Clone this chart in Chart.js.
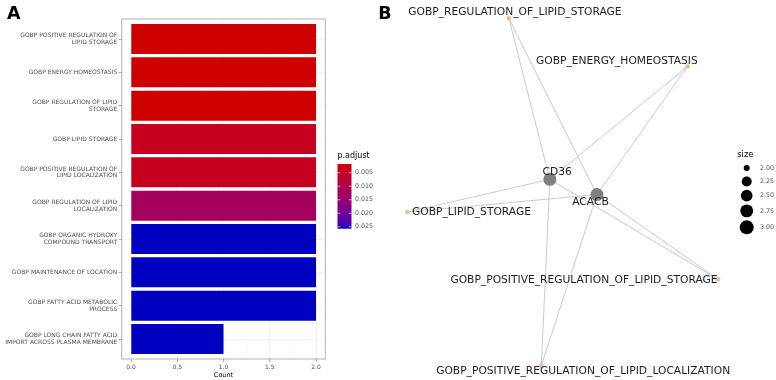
<!DOCTYPE html>
<html><head><meta charset="utf-8">
<script src="https://cdn.jsdelivr.net/npm/chart.js@4.4.1/dist/chart.umd.min.js"></script>
<style>
html,body{margin:0;padding:0;background:#fff;width:776px;height:380px;overflow:hidden}
#a{position:absolute;left:0;top:0;width:380px;height:380px}
#b{position:absolute;left:370px;top:0;width:406px;height:380px}
canvas{display:block}
</style></head><body>
<div id="a"><canvas id="ca" width="380" height="380"></canvas></div>
<div id="b"><canvas id="cb" width="406" height="380"></canvas></div>
<script>
// ---------- Panel A data ----------
const termLabels = [
  ["GOBP POSITIVE REGULATION OF", "LIPID STORAGE"],
  ["GOBP ENERGY HOMEOSTASIS"],
  ["GOBP REGULATION OF LIPID", "STORAGE"],
  ["GOBP LIPID STORAGE"],
  ["GOBP POSITIVE REGULATION OF", "LIPID LOCALIZATION"],
  ["GOBP REGULATION OF LIPID", "LOCALIZATION"],
  ["GOBP ORGANIC HYDROXY", "COMPOUND TRANSPORT"],
  ["GOBP MAINTENANCE OF LOCATION"],
  ["GOBP FATTY ACID METABOLIC", "PROCESS"],
  ["GOBP LONG CHAIN FATTY ACID", "IMPORT ACROSS PLASMA MEMBRANE"]
];
const counts = [2, 2, 2, 2, 2, 2, 2, 2, 2, 1];
const pAdjust = [0.0018, 0.0018, 0.0018, 0.0042, 0.0042, 0.0126, 0.0257, 0.0257, 0.0257, 0.0257];
const countTicks = [0, 0.5, 1, 1.5, 2];
const countMinorTicks = [0.25, 0.75, 1.25, 1.75];
const pAdjustTicks = [0.005, 0.010, 0.015, 0.020, 0.025];

// ---------- Panel B data (network layout coordinates) ----------
const netTerms = ["GOBP_REGULATION_OF_LIPID_STORAGE", "GOBP_ENERGY_HOMEOSTASIS", "GOBP_LIPID_STORAGE",
  "GOBP_POSITIVE_REGULATION_OF_LIPID_STORAGE", "GOBP_POSITIVE_REGULATION_OF_LIPID_LOCALIZATION"];
const netTermX = [3.42, 7.82, 0.92, 8.57, 4.22];
const netTermY = [9.52, 8.25, 4.42, 2.65, 0.38];
const netTermLabelX = [3.57, 6.08, 2.50, 5.27, 5.25];
const netTermLabelY = [9.69, 8.40, 4.42, 2.63, 0.22];
const netGenes = ["CD36", "ACACB"];
const netGeneX = [4.43, 5.59];
const netGeneY = [5.28, 4.88];
const netGeneLabelX = [4.61, 5.43];
const netGeneLabelY = [5.48, 4.67];
const netEdges = [[0,0],[0,1],[0,2],[0,3],[0,4],[1,0],[1,1],[1,2],[1,3],[1,4]];
const sizeLegendValues = [2.00, 2.25, 2.50, 2.75, 3.00];

// ---------- colour scale (Lab interpolation, like ggplot) ----------
const LOW = [206, 0, 0], HIGH = [0, 0, 192];
function s2l(c){c/=255;return c<=0.04045?c/12.92:Math.pow((c+0.055)/1.055,2.4);}
function l2s(c){c=Math.max(0,Math.min(1,c));return 255*(c<=0.0031308?12.92*c:1.055*Math.pow(c,1/2.4)-0.055);}
function rgb2lab(rgb){const R=s2l(rgb[0]),G=s2l(rgb[1]),B=s2l(rgb[2]);
  const X=(0.4124*R+0.3576*G+0.1805*B)/0.95047,Y=0.2126*R+0.7152*G+0.0722*B,Z=(0.0193*R+0.1192*G+0.9505*B)/1.08883;
  const f=t=>t>0.008856?Math.cbrt(t):7.787*t+16/116;const fx=f(X),fy=f(Y),fz=f(Z);
  return [116*fy-16,500*(fx-fy),200*(fy-fz)];}
function lab2rgb(lab){const fy=(lab[0]+16)/116,fx=fy+lab[1]/500,fz=fy-lab[2]/200;
  const fi=t=>t>0.206893?t*t*t:(t-16/116)/7.787;
  const X=fi(fx)*0.95047,Y=fi(fy),Z=fi(fz)*1.08883;
  return [l2s(3.2406*X-1.5372*Y-0.4986*Z),l2s(-0.9689*X+1.8758*Y+0.0415*Z),l2s(0.0557*X-0.2040*Y+1.0570*Z)].map(Math.round);}
const labLow = rgb2lab(LOW), labHigh = rgb2lab(HIGH);
const pMin = Math.min(...pAdjust), pMax = Math.max(...pAdjust);
function colorAt(t){const l=labLow.map((v,i)=>v+(labHigh[i]-v)*t);const c=lab2rgb(l);return `rgb(${c[0]},${c[1]},${c[2]})`;}
function colorFor(p){return colorAt((p-pMin)/(pMax-pMin));}

const FONT = '"DejaVu Sans", sans-serif';

// ---------- Panel A ----------
const panelAPlugin = {
  id: 'panelA',
  afterDraw(chart){
    const ctx = chart.ctx, a = chart.chartArea;
    ctx.save();
    ctx.strokeStyle = '#A0A0A0'; ctx.lineWidth = 0.8;
    ctx.strokeRect(a.left, a.top, a.right - a.left, a.bottom - a.top);
    ctx.fillStyle = '#000'; ctx.font = 'bold 17.5px ' + FONT;
    ctx.textAlign = 'left'; ctx.textBaseline = 'alphabetic';
    ctx.fillText('A', 7, 18.7);
    const bx = 337.5, bw = 14, by0 = 164, by1 = 228.7;
    ctx.font = '8px ' + FONT; ctx.fillStyle = '#000'; ctx.textBaseline = 'middle';
    ctx.fillText('p.adjust', 337.5, 155.5);
    const g = ctx.createLinearGradient(0, by0, 0, by1);
    for (let i = 0; i <= 40; i++) g.addColorStop(i/40, colorAt(i/40));
    ctx.fillStyle = g; ctx.fillRect(bx, by0, bw, by1 - by0);
    const py = p => by0 + (p - pMin) / (pMax - pMin) * (by1 - by0);
    ctx.font = '6.3px ' + FONT; ctx.fillStyle = '#4D4D4D';
    pAdjustTicks.forEach(p => {
      const y = py(p);
      ctx.strokeStyle = '#fff'; ctx.lineWidth = 0.6;
      ctx.beginPath(); ctx.moveTo(bx, y); ctx.lineTo(bx + 2.8, y);
      ctx.moveTo(bx + bw - 2.8, y); ctx.lineTo(bx + bw, y); ctx.stroke();
      ctx.fillText(p.toFixed(3), 355, y);
    });
    ctx.restore();
  }
};
const minorSet = new Set(countMinorTicks);
new Chart(document.getElementById('ca'), {
  type: 'bar',
  data: { datasets: [{
    data: counts.map((c, i) => ({ x: c, y: i })),
    backgroundColor: pAdjust.map(colorFor),
    borderWidth: 0, barPercentage: 0.9, categoryPercentage: 1
  }]},
  options: {
    indexAxis: 'y', responsive: false, animation: false, devicePixelRatio: 1,
    layout: { padding: { left: 0, right: 54.75, top: 19, bottom: 0 } },
    plugins: { legend: { display: false }, tooltip: { enabled: false } },
    scales: {
      x: {
        type: 'linear', min: -0.1, max: 2.1, offset: false,
        afterBuildTicks: s => { s.ticks = [...countTicks, ...countMinorTicks].sort((p,q)=>p-q).map(v => ({ value: v })); },
        afterFit: s => { s.height = 21; },
        ticks: { autoSkip: false, maxRotation: 0, padding: 2.2, color: '#4D4D4D', font: { family: FONT, size: 6 },
          callback: v => minorSet.has(v) ? '' : v.toFixed(1) },
        grid: { color: c => minorSet.has(c.tick && c.tick.value) ? '#F4F4F4' : '#EBEBEB',
          lineWidth: c => minorSet.has(c.tick && c.tick.value) ? 0.4 : 0.6,
          drawTicks: true, tickLength: 3, tickWidth: 0.6,
          tickColor: c => minorSet.has(c.tick && c.tick.value) ? 'rgba(0,0,0,0)' : '#777' },
        border: { display: false },
        title: { display: true, text: 'Count', color: '#000', font: { family: FONT, size: 6.5 }, padding: { top: 0, bottom: 1 } }
      },
      y: {
        type: 'linear', reverse: true, min: -0.6, max: 9.6, offset: false,
        afterBuildTicks: s => { s.ticks = termLabels.map((_, i) => ({ value: i })); },
        afterFit: s => { s.width = 121.75; },
        ticks: { autoSkip: false, padding: 1.5, color: '#4D4D4D', font: { family: FONT, size: 6, lineHeight: 1.1 },
          callback: (v, i) => termLabels[i] },
        grid: { offset: false, color: '#EBEBEB', lineWidth: 0.6, drawTicks: true, tickLength: 3, tickWidth: 0.6, tickColor: '#777' },
        border: { display: false }
      }
    }
  },
  plugins: [panelAPlugin]
});

// ---------- Panel B ----------
const panelBPlugin = {
  id: 'panelB',
  afterDatasetsDraw(chart){
    const ctx = chart.ctx, sx = chart.scales.x, sy = chart.scales.y;
    ctx.save();
    ctx.fillStyle = '#1E1E1E'; ctx.font = '10.7px ' + FONT;
    ctx.textAlign = 'center'; ctx.textBaseline = 'middle';
    netTerms.forEach((t, i) => ctx.fillText(t, sx.getPixelForValue(netTermLabelX[i]), sy.getPixelForValue(netTermLabelY[i])));
    netGenes.forEach((t, i) => ctx.fillText(t, sx.getPixelForValue(netGeneLabelX[i]), sy.getPixelForValue(netGeneLabelY[i])));
    ctx.fillStyle = '#000'; ctx.font = 'bold 17.5px ' + FONT;
    ctx.textAlign = 'left'; ctx.textBaseline = 'alphabetic';
    ctx.fillText('B', 8.3, 18.7);
    ctx.font = '8.3px ' + FONT; ctx.fillStyle = '#000'; ctx.textBaseline = 'middle';
    ctx.fillText('size', 367.3, 154.5);
    const sMin = Math.min(...sizeLegendValues), sMax = Math.max(...sizeLegendValues);
    const rad = v => 3 + 4 * Math.sqrt((v - sMin) / (sMax - sMin));
    let y = 168, prevH = null;
    ctx.font = '6.3px ' + FONT;
    sizeLegendValues.forEach(v => {
      const r = rad(v), h = Math.max(13.5, 2 * r + 3);
      if (prevH !== null) y += (prevH + h) / 2;
      prevH = h;
      ctx.fillStyle = '#000';
      ctx.beginPath(); ctx.arc(376.7, y, r, 0, Math.PI * 2); ctx.fill();
      ctx.fillStyle = '#4D4D4D';
      ctx.fillText(v.toFixed(2), 390, y);
    });
    ctx.restore();
  }
};
new Chart(document.getElementById('cb'), {
  type: 'scatter',
  data: { datasets: [
    ...netEdges.map(([g, t]) => ({
      data: [{ x: netGeneX[g], y: netGeneY[g] }, { x: netTermX[t], y: netTermY[t] }],
      showLine: true, borderColor: '#C4C4C4', borderWidth: 0.9, pointRadius: 0, pointHoverRadius: 0, order: 3
    })),
    { data: netTermX.map((x, i) => ({ x, y: netTermY[i] })), pointRadius: 2.3, backgroundColor: '#E9C18F', borderWidth: 0, order: 2 },
    { data: netGeneX.map((x, i) => ({ x, y: netGeneY[i] })), pointRadius: 6.5, backgroundColor: '#808080', borderWidth: 0, order: 1 }
  ]},
  options: {
    responsive: false, animation: false, devicePixelRatio: 1,
    layout: { padding: 0, autoPadding: false },
    plugins: { legend: { display: false }, tooltip: { enabled: false } },
    scales: { x: { display: false, min: 0, max: 10 }, y: { display: false, min: 0, max: 10 } }
  },
  plugins: [panelBPlugin]
});
</script>
</body></html>
